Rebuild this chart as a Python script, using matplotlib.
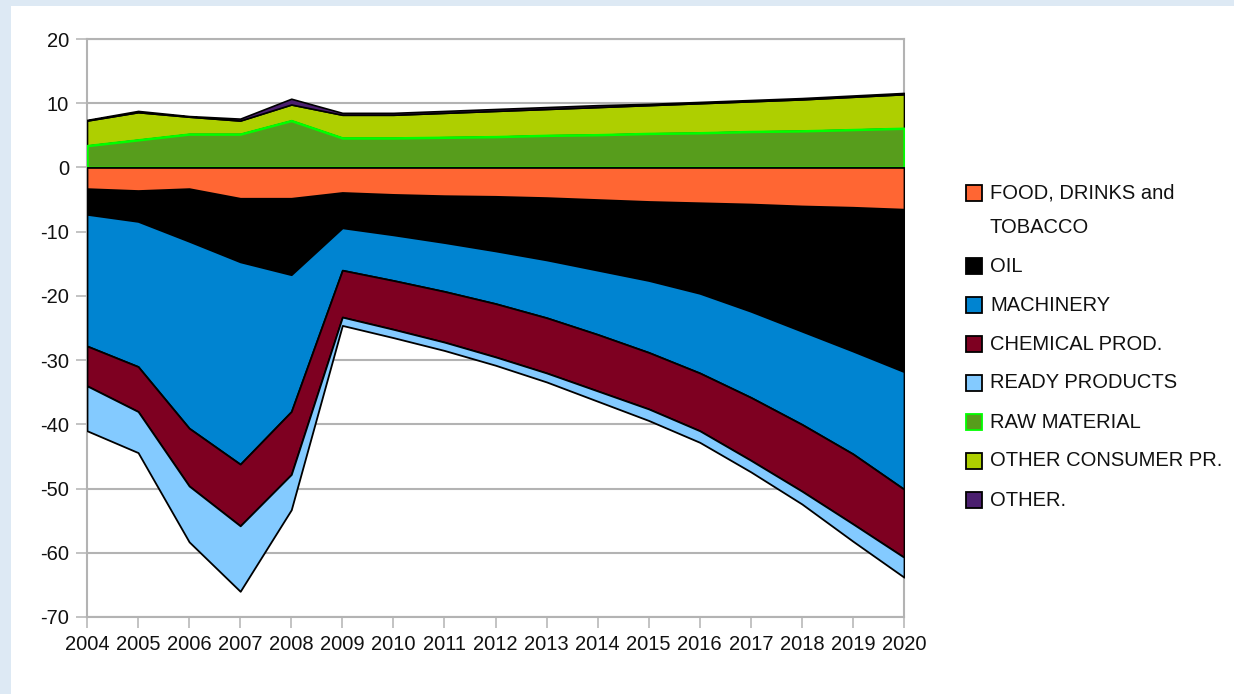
#!/usr/bin/env python
# -*- coding: utf-8 -*-

import numpy as np
import matplotlib
matplotlib.use('Agg')
from matplotlib import pyplot as plt
from matplotlib.patches import Rectangle

years = list(range(2004, 2021))

# positive part of the stack (bottom to top)
raw_material = [3.4, 4.3, 5.2, 5.2, 7.3, 4.6, 4.6, 4.7, 4.8, 5.0, 5.1, 5.3, 5.4, 5.6, 5.7, 5.9, 6.1]
other_consumer = [3.9, 4.3, 2.7, 2.1, 2.5, 3.6, 3.6, 3.8, 4.0, 4.1, 4.3, 4.4, 4.6, 4.7, 4.9, 5.1, 5.3]
other = [0.1, 0.2, 0.1, 0.3, 0.9, 0.3, 0.3, 0.3, 0.3, 0.3, 0.3, 0.2, 0.2, 0.2, 0.2, 0.2, 0.2]

# negative part of the stack (top to bottom)
food = [-3.3, -3.6, -3.3, -4.8, -4.8, -3.9, -4.2, -4.4, -4.5, -4.7, -5.0, -5.3, -5.5, -5.7, -6.0, -6.2, -6.5]
oil = [-4.0, -4.8, -8.2, -9.9, -11.9, -5.5, -6.3, -7.3, -8.5, -9.7, -11.0, -12.3, -14.1, -16.7, -19.5, -22.4, -25.3]
machinery = [-20.5, -22.6, -29.1, -31.5, -21.3, -6.6, -7.1, -7.6, -8.2, -9.0, -10.0, -11.2, -12.4, -13.4, -14.5, -16.0, -18.3]
chemical = [-6.2, -7.0, -9.0, -9.6, -9.8, -7.3, -7.6, -7.9, -8.3, -8.6, -8.8, -8.8, -9.0, -9.8, -10.4, -10.9, -10.6]
ready = [-7.0, -6.4, -8.7, -10.2, -5.5, -1.3, -1.3, -1.3, -1.3, -1.4, -1.6, -1.8, -1.8, -1.8, -2.0, -2.7, -3.1]

# (label, values, fill, edge, zorder)
pos_series = [
    ('RAW MATERIAL', raw_material, '#579d1c', '#00ff00', 4),
    ('OTHER CONSUMER PR.', other_consumer, '#aecf00', 'black', 3),
    ('OTHER.', other, '#4b1f6f', 'black', 3),
]
neg_series = [
    ('FOOD, DRINKS and\nTOBACCO', food, '#ff6633', 'black', 5),
    ('OIL', oil, '#000000', 'black', 3),
    ('MACHINERY', machinery, '#0084d1', 'black', 3),
    ('CHEMICAL PROD.', chemical, '#7e0021', 'black', 3),
    ('READY PRODUCTS', ready, '#83caff', 'black', 3),
]
legend_order = neg_series + pos_series

plt.rcParams['font.family'] = ['Liberation Sans', 'DejaVu Sans']
plt.rcParams['axes.unicode_minus'] = False

W, H = 1234, 694
fig = plt.figure(figsize=(W / 100., H / 100.), dpi=100, facecolor='#dde9f4')
fig.patches.append(Rectangle((11. / W, 0), 1, 1 - 6. / H, transform=fig.transFigure,
                             facecolor='white', edgecolor='none', zorder=-5))

ax = fig.add_axes([87. / W, 1 - 617. / H, (904. - 87.) / W, (617. - 39.) / H])
ax.set_facecolor('white')

x = np.array(years)
base = np.zeros(len(years))
for name, vals, col, edge, z in pos_series:
    top = base + np.array(vals)
    ax.fill_between(x, base, top, facecolor=col, edgecolor=edge,
                    linewidth=1.8 if edge != 'black' else 1.2, zorder=z)
    base = top

base = np.zeros(len(years))
for name, vals, col, edge, z in neg_series:
    bot = base + np.array(vals)
    ax.fill_between(x, base, bot, facecolor=col, edgecolor=edge, linewidth=1.3, zorder=z)
    base = bot

ax.set_xlim(2004, 2020)
ax.set_ylim(-70, 20)
ax.set_xticks(years)
ax.set_yticks(range(-70, 21, 10))
ax.yaxis.grid(True, color='#b3b3b3', linewidth=1.5, zorder=1)
ax.set_axisbelow(True)
for s in ax.spines.values():
    s.set_color('#b3b3b3')
    s.set_linewidth(1.5)
ax.tick_params(axis='both', direction='out', length=8, width=1.1, color='#b3b3b3',
               labelsize=14.5, labelcolor='#111111')
ax.tick_params(axis='y', pad=5)
ax.tick_params(axis='x', pad=5)

# legend, drawn by hand so the box sits next to the first text line
y_px = 193
for name, vals, col, edge, z in legend_order:
    fig.patches.append(Rectangle((966. / W, 1 - (y_px + 8.) / H), 16. / W, 16. / H,
                                 transform=fig.transFigure, facecolor=col,
                                 edgecolor=edge, linewidth=1.3, zorder=5))
    for k, line in enumerate(name.split('\n')):
        if k > 0:
            y_px += 34
        fig.text(990. / W, 1 - y_px / H, line, fontsize=14.5, color='#111111',
                 va='center', ha='left')
    y_px += 39

fig.savefig('out.png', dpi=100, facecolor=fig.get_facecolor())
